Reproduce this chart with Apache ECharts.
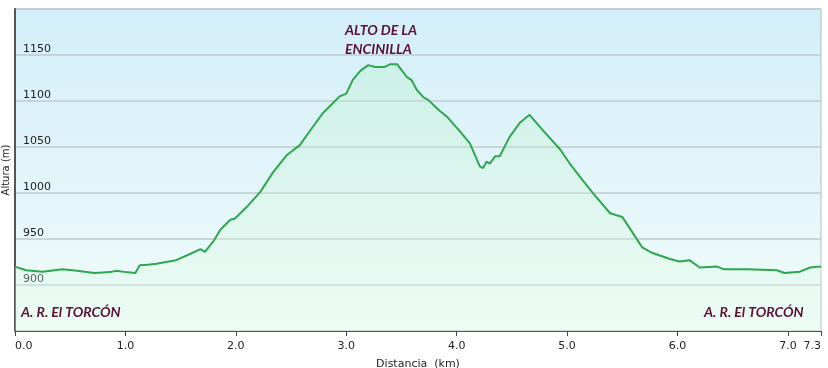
<!DOCTYPE html>
<html>
<head>
<meta charset="utf-8">
<script src="https://cdn.jsdelivr.net/npm/echarts@6/dist/echarts.min.js"></script>
<style>
  html, body { margin: 0; padding: 0; background: #fff; }
  #perfil { width: 828px; height: 368px; }
</style>
</head>
<body>
<div id="perfil"></div>
<script>
var distancia = [0, 0.1, 0.25, 0.43, 0.56, 0.72, 0.86, 0.92, 1.0, 1.09, 1.13, 1.2, 1.28, 1.46, 1.59, 1.68, 1.72, 1.80, 1.86, 1.95, 1.99, 2.1, 2.22, 2.34, 2.46, 2.58, 2.68, 2.79, 2.94, 3.0, 3.06, 3.13, 3.20, 3.26, 3.35, 3.40, 3.46, 3.55, 3.59, 3.64, 3.70, 3.74, 3.83, 3.92, 4.03, 4.12, 4.17, 4.21, 4.24, 4.27, 4.30, 4.35, 4.39, 4.48, 4.57, 4.66, 4.79, 4.94, 5.03, 5.14, 5.24, 5.39, 5.50, 5.62, 5.68, 5.77, 5.84, 5.94, 6.02, 6.11, 6.20, 6.36, 6.42, 6.63, 6.90, 6.97, 7.11, 7.20, 7.30];
var altura = [920, 916, 914.5, 917, 915.5, 913, 914, 915.5, 914, 913, 921.5, 922, 923, 927, 934, 939, 936, 948, 960, 971, 972, 985, 1001, 1023, 1041, 1052, 1069, 1087, 1105, 1108, 1123, 1133, 1139, 1137, 1137, 1140, 1140, 1126, 1123, 1112, 1104, 1101.5, 1091, 1082, 1067, 1054, 1040, 1029, 1027, 1034, 1032, 1040, 1040, 1061, 1076, 1085, 1067, 1047, 1031, 1014, 999, 978, 974, 952, 941, 935, 932, 928, 925.5, 927, 919, 920, 917, 917, 916, 913, 914.5, 919, 920];

var puntos = distancia.map(function (d, i) { return [d, altura[i]]; });

var myChart = echarts.init(document.getElementById('perfil'));

var rotulo = { fontFamily: 'Lato', fontSize: 14, fontWeight: 'bold', fontStyle: 'italic', fill: '#5a1236' };

option = {
    animation: false,
    grid: {
        left: 15, right: 7, top: 9, bottom: 37,
        outerBoundsMode: 'none',
        containLabel: false,
        show: true,
        borderColor: '#b4bcc0',
        borderWidth: 1,
        backgroundColor: new echarts.graphic.LinearGradient(0, 0, 0, 1, [
            {offset: 0, color: '#d2eef9'},
            {offset: 1, color: '#f2fcf9'}
        ])
    },
    xAxis: {
        type: 'value',
        min: 0,
        max: 7.3,
        interval: 1,
        name: 'Distancia  (km)',
        nameLocation: 'middle',
        nameGap: 28,
        nameTextStyle: {fontFamily: 'DejaVu Sans', fontSize: 11, color: '#222'},
        axisLine: {lineStyle: {color: '#555', width: 1}},
        axisTick: {show: true, length: 5, lineStyle: {color: '#444'}},
        axisLabel: {
            fontFamily: 'DejaVu Sans', fontSize: 11, color: '#222', margin: 10,
            alignMinLabel: 'left', alignMaxLabel: 'right',
            formatter: function (v) { return v.toFixed(1); }
        },
        splitLine: {show: false}
    },
    yAxis: {
        type: 'value',
        min: 850,
        max: 1200,
        interval: 50,
        axisLine: {show: true, lineStyle: {color: '#555', width: 2}},
        axisTick: {show: false},
        axisLabel: {
            inside: true, margin: 8, verticalAlign: 'bottom', padding: 0, lineHeight: 11,
            showMinLabel: false, showMaxLabel: false,
            fontFamily: 'DejaVu Sans', fontSize: 11, color: '#222',
            formatter: function (v) { return String(v); }
        },
        splitLine: {lineStyle: {color: '#c2cacd', width: 1.5}}
    },
    graphic: [
        // titulo del eje vertical
        {type: 'text', z: 100, x: 6, y: 170, rotation: Math.PI / 2,
         style: {text: 'Altura (m)', fontFamily: 'DejaVu Sans', fontSize: 10, fill: '#222',
                 align: 'center', verticalAlign: 'middle'}},
        {type: 'text', z: 100, left: 345, top: 23, style: Object.assign({text: 'ALTO DE LA'}, rotulo)},
        {type: 'text', z: 100, left: 345, top: 42, style: Object.assign({text: 'ENCINILLA'}, rotulo)},
        {type: 'text', z: 100, left: 21, top: 305, style: Object.assign({text: 'A. R. El TORCÓN'}, rotulo)},
        {type: 'text', z: 100, left: 704, top: 305, style: Object.assign({text: 'A. R. El TORCÓN'}, rotulo)}
    ],
    series: [{
        type: 'line',
        data: puntos,
        symbol: 'none',
        smooth: false,
        lineStyle: {color: '#2fa650', width: 2},
        areaStyle: {
            color: new echarts.graphic.LinearGradient(0, 0, 0, 1, [
                {offset: 0, color: 'rgba(185,240,200,0.5)'},
                {offset: 1, color: 'rgba(225,252,232,0.4)'}
            ])
        }
    }]
};

myChart.setOption(option);
</script>
</body>
</html>
